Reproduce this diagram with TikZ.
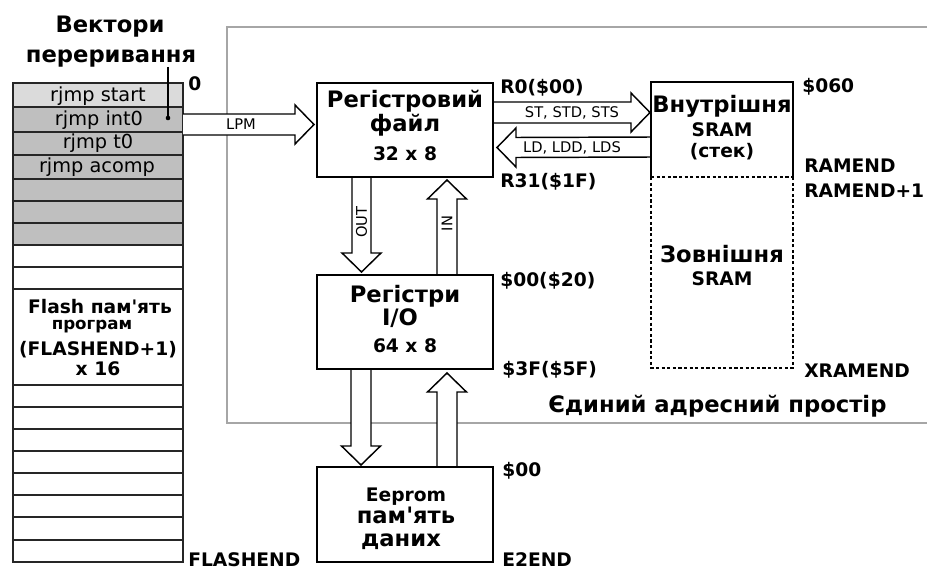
\documentclass[tikz,border=0pt]{standalone}
\usepackage{fontspec}
\setmainfont{DejaVu Sans}[Ligatures=TeXOff]
\usetikzlibrary{calc}
\newcommand\barR[3][10.5]{\draw[barrow] ($(#2)+(0,-#1)$) -- ($(#3)+(-19,-#1)$) -- ($(#3)+(-19,-19.5)$) -- (#3) -- ($(#3)+(-19,19.5)$) -- ($(#3)+(-19,#1)$) -- ($(#2)+(0,#1)$);}
\newcommand\barL[3][10.5]{\draw[barrow] ($(#2)+(0,-#1)$) -- ($(#3)+(19,-#1)$) -- ($(#3)+(19,-19.5)$) -- (#3) -- ($(#3)+(19,19.5)$) -- ($(#3)+(19,#1)$) -- ($(#2)+(0,#1)$);}
\newcommand\barD[3][10]{\draw[barrow] ($(#2)+(-#1,0)$) -- ($(#3)+(-#1,-19)$) -- ($(#3)+(-19.5,-19)$) -- (#3) -- ($(#3)+(19.5,-19)$) -- ($(#3)+(#1,-19)$) -- ($(#2)+(#1,0)$);}
\newcommand\barU[3][10]{\draw[barrow] ($(#2)+(-#1,0)$) -- ($(#3)+(-#1,19)$) -- ($(#3)+(-19.5,19)$) -- (#3) -- ($(#3)+(19.5,19)$) -- ($(#3)+(#1,19)$) -- ($(#2)+(#1,0)$);}
\begin{document}
\begin{tikzpicture}[x=0.75pt,y=-0.75pt,
  box/.style={draw=black, line width=1.3pt, inner sep=0pt, outer sep=0pt},
  barrow/.style={draw=black, line width=1.1pt, fill=white, line join=miter},
  rowline/.style={draw=black!85, line width=1.3pt},
  dashedge/.style={draw=black, line width=1.2pt, dash pattern=on 2.4pt off 1.8pt},
  big/.style={font=\fontsize{17}{17}\selectfont\bfseries},
  med/.style={font=\fontsize{14}{14}\selectfont\bfseries},
  sm/.style={font=\fontsize{11}{11}\selectfont},
  cell/.style={font=\fontsize{14.5}{14.5}\selectfont},
  txt/.style={anchor=base, inner sep=0pt},
  lbl/.style={med, anchor=base west, inner sep=0pt}
]
\useasboundingbox (0,0) rectangle (929,571);
% unified address space frame
\draw[draw=black!35, line width=1.1pt] (927,27) -- (227,27) -- (227,423) -- (927,423);
\node[big, anchor=base west, inner sep=0pt] (space) at (548,412) {Єдиний адресний простір};

% flash column
\fill[black!14] (13,82.7) rectangle (183,107);
\fill[black!25] (13,107) rectangle (183,245);
\foreach \yy in {107,131.7,155,179,201,223,245,267,289,385,407,429,451,473,495,517,540}
  \draw[rowline] (13,\yy) -- (183,\yy);
\node[box, draw=black!85, minimum width=127.5pt, minimum height=359.5pt, anchor=north west] (flash) at (13,82.7) {};
\node[cell, txt] (c1) at (98,101) {rjmp start};
\node[cell, txt] (c2) at (99,125) {rjmp int0};
\node[cell, txt] (c3) at (98,148.5) {rjmp t0};
\node[cell, txt] (c4) at (97,172) {rjmp acomp};
\node[med, txt] (fl1) at (100,313) {Flash пам'ять};
\node[txt, font=\fontsize{12.5}{12.5}\selectfont\bfseries] (fl2) at (92,329) {програм};
\node[med, txt] (fl3) at (98,355) {(FLASHEND+1)};
\node[med, txt] (fl4) at (98,375) {x 16};
\node[big, txt] (vec1) at (110,32) {Вектори};
\node[big, txt] (vec2) at (111,62) {переривання};
\coordinate (ptr) at (168,118);
\draw[line width=1pt] (vec2.south -| ptr) -- (ptr);
\fill (ptr) circle (2.3);
\node[lbl] (zero) at (188,90) {0};
\node[lbl] (flend) at (188,566) {FLASHEND};

% main boxes
\node[box, minimum width=132pt, minimum height=70.5pt] (reg) at (405,130) {};
\node[box, minimum width=132pt, minimum height=70.5pt] (io) at (405,322) {};
\node[box, minimum width=132pt, minimum height=71.25pt] (eep) at (405,514.5) {};
\node[inner sep=0pt, outer sep=0pt, minimum width=106.5pt, minimum height=71.25pt] (sramI) at (722,129.5) {};
\node[inner sep=0pt, outer sep=0pt, minimum width=106.5pt, minimum height=143.25pt] (sramX) at (722,272.5) {};

% block arrows
\coordinate (lpmS) at ($(flash.north east)+(0,41.8)$);
\coordinate (lpmT) at ($(reg.west)+(-3,-5.5)$);
\coordinate (stS) at ($(reg.east)+(0,-17.5)$);
\coordinate (stT) at ($(sramI.west)+(-1,-17)$);
\coordinate (ldS) at ($(sramI.west)+(0,17.5)$);
\coordinate (ldT) at ($(reg.east)+(4,17.5)$);
\coordinate (outS) at ($(reg.south)+(-43.5,0)$);
\coordinate (outT) at ($(io.north)+(-43.5,-3)$);
\coordinate (inS) at ($(io.north)+(42,0)$);
\coordinate (inT) at ($(reg.south)+(42,3)$);
\coordinate (out2S) at ($(io.south)+(-44,0)$);
\coordinate (out2T) at ($(eep.north)+(-44,-2)$);
\coordinate (in2S) at ($(eep.north)+(42,0)$);
\coordinate (in2T) at ($(io.south)+(42,4)$);
\barR{lpmS}{lpmT}
\barR{stS}{stT}
\barL[10]{ldS}{ldT}
\barD[9.5]{outS}{outT}
\barU{inS}{inT}
\barD{out2S}{out2T}
\barU{in2S}{in2T}
\node[sm, inner sep=0pt] (lpm) at (241,124.5) {LPM};
\node[sm, inner sep=0pt] (sttxt) at (572,113) {ST, STD, STS};
\node[sm, inner sep=0pt] (ldtxt) at (572,147.5) {LD, LDD, LDS};
\node[sm, inner sep=0pt, rotate=90] (outtxt) at (361.5,222) {OUT};
\node[sm, inner sep=0pt, rotate=90] (intxt) at (447,223.5) {IN};

% redraw box borders on top
\draw[box] (reg.south west) rectangle (reg.north east);
\draw[box] (io.south west) rectangle (io.north east);
\draw[box] (eep.south west) rectangle (eep.north east);
\draw[line width=1.3pt] (sramI.south west) -- (sramI.north west) -- (sramI.north east) -- (sramI.south east);
\draw[dashedge] (sramI.south west) -- (sramI.south east);
\draw[dashedge] (sramX.north west) -- (sramX.south west) -- (sramX.south east) -- (sramX.north east);

% box texts
\node[big, txt] (r1) at (405,107) {Регістровий};
\node[big, txt] (r2) at (405,131) {файл};
\node[med, txt] (r3) at (405,160) {32 x 8};
\node[big, txt] (i1) at (405,302) {Регістри};
\node[big, txt] (i2) at (400,325) {I/O};
\node[med, txt] (i3) at (405,352) {64 x 8};
\node[med, txt] (e1) at (406,501) {Eeprom};
\node[big, txt] (e2) at (406,523) {пам'ять};
\node[big, txt] (e3) at (401,546) {даних};
\node[big, txt] (s1) at (722,112) {Внутрішня};
\node[med, txt] (s2) at (722,136) {SRAM};
\node[med, txt] (s3) at (722,157) {(стек)};
\node[big, txt] (x1) at (722,262) {Зовнішня};
\node[med, txt] (x2) at (722,285) {SRAM};

% address labels
\node[lbl] (a1) at (500,93) {R0(\$00)};
\node[lbl] (a2) at (500,187) {R31(\$1F)};
\node[lbl] (a3) at (500,286) {\$00(\$20)};
\node[lbl] (a4) at (502,375) {\$3F(\$5F)};
\node[lbl] (a5) at (502,476) {\$00};
\node[lbl] (a6) at (502,566) {E2END};
\node[lbl] (a7) at (802,92) {\$060};
\node[lbl] (a8) at (804,172) {RAMEND};
\node[lbl] (a9) at (804,197) {RAMEND+1};
\node[lbl] (a10) at (804,377) {XRAMEND};
\end{tikzpicture}
\end{document}
